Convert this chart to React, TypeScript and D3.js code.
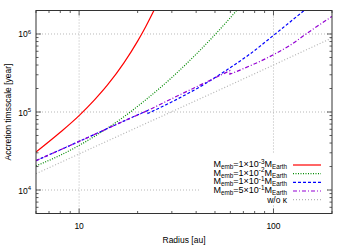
import React from 'react'
import * as d3 from 'd3'

const W = 350
const H = 245
const plot = { left: 36, right: 332, top: 10.5, bottom: 213.5 }

// radius [au] / accretion timescale [year]
const redR = [6, 8, 10, 12, 14, 17, 20, 22, 25]
const redT = [3.07e4, 5.5e4, 9.0e4, 1.43e5, 2.22e5, 4.26e5, 8.1e5, 1.24e6, 2.33e6]

const greenR = [6, 8, 10, 13, 17, 22, 30, 40, 50, 60, 66]
const greenT = [2.04e4, 2.79e4, 3.73e4, 5.52e4, 8.69e4, 1.43e5, 2.77e5, 5.51e5, 9.8e5, 1.62e6, 2.13e6]

// a repeated radius marks the small jump in the curve
const blueR = [6, 10, 15.8, 22.6, 22.6, 31.6, 44.7, 57.5, 75.9, 100, 144.5]
const blueT = [2.38e4, 4.2e4, 7.06e4, 1.05e5, 9.6e4, 1.44e5, 2.32e5, 3.46e5, 5.57e5, 9.6e5, 2.02e6]

const purpleR = [6, 10, 15.8, 22.6, 31.6, 44.7, 59.7, 59.7, 100, 120, 147, 200]
const purpleT = [2.38e4, 4.2e4, 7.06e4, 1.05e5, 1.58e5, 2.39e5, 3.39e5, 3.05e5, 5.43e5, 7.0e5, 1e6, 1.68e6]

const grayR = [6, 10, 100, 200]
const grayT = [1.62e4, 2.9e4, 4.0e5, 8.9e5]

const xMajor = [10, 100]
const yMajor = [1e4, 1e5, 1e6]
const yExp = ['4', '5', '6']

const legendMass = ['1', '1', '1', '5']
const legendExp = ['-3', '-2', '-1', '-1']

const series = [
  { r: redR, t: redT, color: '#ff0000', dash: undefined },
  { r: greenR, t: greenT, color: '#008a00', dash: '1,1.5' },
  { r: blueR, t: blueT, color: '#0000ff', dash: '3,2' },
  { r: purpleR, t: purpleT, color: '#9400d3', dash: '4,2,1,2' },
  { r: grayR, t: grayT, color: '#b4b4b4', dash: '1,2' }
]

const font = '"Liberation Sans", Arial, sans-serif'

const x = d3.scaleLog().domain([6, 200]).range([plot.left, plot.right])
const y = d3.scaleLog().domain([5000, 2e6]).range([plot.bottom, plot.top])

const line = d3.line<[number, number]>()
  .x(d => x(d[0]))
  .y(d => y(d[1]))
  .curve(d3.curveMonotoneX)

function seriesPath(r: number[], t: number[]) {
  // split where the radius repeats, join pieces with a vertical step
  const segs: [number, number][][] = [[]]
  r.forEach((v, i) => {
    if (i > 0 && v === r[i - 1]) segs.push([])
    segs[segs.length - 1].push([v, t[i]])
  })
  return segs.map((s, i) => {
    const p = line(s) || ''
    return i === 0 ? p : p.replace(/^M/, 'L')
  }).join('')
}

const minorX: number[] = []
;[1, 10, 100].forEach(d => {
  for (let k = 2; k <= 9; k++) {
    const v = d * k
    if (v >= 6 && v <= 200) minorX.push(v)
  }
})
const minorY: number[] = []
;[1e3, 1e4, 1e5, 1e6].forEach(d => {
  for (let k = 2; k <= 9; k++) {
    const v = d * k
    if (v >= 5000 && v <= 2e6) minorY.push(v)
  }
})

export default function App() {
  const rowY = [165, 173.6, 182.3, 191, 199.6]
  const textX = 287
  return (
    <svg width={W} height={H} style={{ position: 'absolute', left: 0, top: 0, background: '#fff' }}
      fontFamily={font}>
      <defs>
        <clipPath id="plotClip">
          <rect x={plot.left} y={plot.top} width={plot.right - plot.left} height={plot.bottom - plot.top} />
        </clipPath>
      </defs>
      {/* grid */}
      <g stroke="#999" strokeWidth={0.7} strokeDasharray="1,2" fill="none">
        {xMajor.map(v => <line key={'gx' + v} x1={x(v)} x2={x(v)} y1={plot.top} y2={plot.bottom} />)}
        {yMajor.map(v => <line key={'gy' + v} x1={plot.left} x2={plot.right} y1={y(v)} y2={y(v)} />)}
      </g>
      {/* opaque key box */}
      <rect x={200} y={154} width={125} height={51} fill="#fff" />
      {/* curves */}
      <g clipPath="url(#plotClip)" fill="none">
        {series.map((s, i) => (
          <path key={i} d={seriesPath(s.r, s.t)} stroke={s.color} strokeWidth={1.2}
            strokeDasharray={s.dash} />
        ))}
      </g>
      {/* ticks */}
      <g stroke="#333" strokeWidth={0.8}>
        {xMajor.map(v => (
          <g key={'tx' + v}>
            <line x1={x(v)} x2={x(v)} y1={plot.bottom} y2={plot.bottom - 5} />
            <line x1={x(v)} x2={x(v)} y1={plot.top} y2={plot.top + 5} />
          </g>
        ))}
        {minorX.map(v => (
          <g key={'mx' + v}>
            <line x1={x(v)} x2={x(v)} y1={plot.bottom} y2={plot.bottom - 2.5} />
            <line x1={x(v)} x2={x(v)} y1={plot.top} y2={plot.top + 2.5} />
          </g>
        ))}
        {yMajor.map(v => (
          <g key={'ty' + v}>
            <line x1={plot.left} x2={plot.left + 5} y1={y(v)} y2={y(v)} />
            <line x1={plot.right} x2={plot.right - 5} y1={y(v)} y2={y(v)} />
          </g>
        ))}
        {minorY.map(v => (
          <g key={'my' + v}>
            <line x1={plot.left} x2={plot.left + 2.5} y1={y(v)} y2={y(v)} />
            <line x1={plot.right} x2={plot.right - 2.5} y1={y(v)} y2={y(v)} />
          </g>
        ))}
      </g>
      <rect x={plot.left} y={plot.top} width={plot.right - plot.left} height={plot.bottom - plot.top}
        fill="none" stroke="#333" strokeWidth={1} />
      {/* tick labels */}
      <g fontSize={8.5} fill="#000">
        {xMajor.map(v => (
          <text key={'lx' + v} x={x(v)} y={228.5} textAnchor="middle">{v}</text>
        ))}
        {yMajor.map((v, i) => (
          <text key={'ly' + v} x={31} y={y(v) + 3.5} textAnchor="end">
            10<tspan dy={-3.5} fontSize={6}>{yExp[i]}</tspan>
          </text>
        ))}
        <text x={(plot.left + plot.right) / 2} y={243} textAnchor="middle">Radius [au]</text>
        <text transform={`translate(11,${(plot.top + plot.bottom) / 2}) rotate(-90)`} textAnchor="middle">
          Accretion timsscale [year]
        </text>
      </g>
      {/* legend */}
      <g fontSize={9} fill="#000">
        {legendMass.map((m, i) => (
          <text key={'lg' + i} x={textX} y={rowY[i] + 2} textAnchor="end">
            M<tspan dy={2} fontSize={6.3}>emb</tspan>
            <tspan dy={-2}>={m}×10</tspan>
            <tspan dy={-3.5} fontSize={6.3}>{legendExp[i]}</tspan>
            <tspan dy={3.5}>M</tspan>
            <tspan dy={2} fontSize={6.3}>Earth</tspan>
          </text>
        ))}
        <text x={textX} y={rowY[4] + 3} textAnchor="end" fontSize={8.5}>w/o κ</text>
        {series.map((s, i) => (
          <line key={'ls' + i} x1={293} x2={321} y1={rowY[i]} y2={rowY[i]} stroke={s.color}
            strokeWidth={1.2} strokeDasharray={s.dash} />
        ))}
      </g>
    </svg>
  )
}
